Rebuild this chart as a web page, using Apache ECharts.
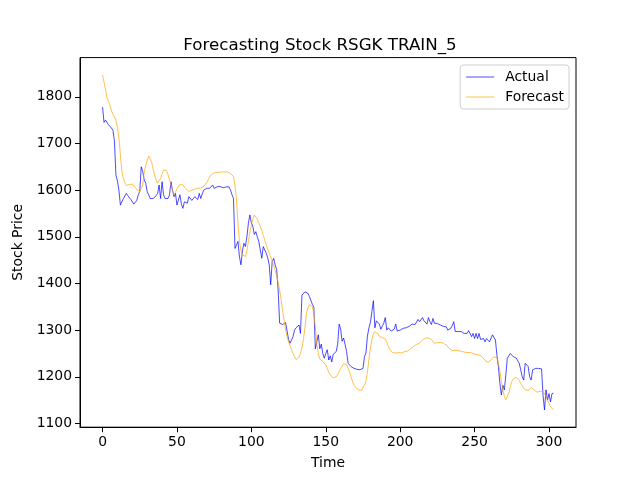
<!DOCTYPE html>
<html>
<head>
<meta charset="utf-8">
<script src="https://cdn.jsdelivr.net/npm/echarts@6/dist/echarts.min.js"></script>
<style>
  html, body { margin: 0; padding: 0; background: #fff; }
  #main { width: 640px; height: 480px; }
</style>
</head>
<body>
<div id="main"></div>
<script>
// values, one per time step
var actual = [
  1778, 1745, 1750, 1746, 1740, 1736, 1733, 1728, 1705, 1632,
  1620, 1600, 1568, 1575, 1582, 1586, 1593, 1588, 1584, 1580,
  1576, 1570, 1567, 1578, 1590, 1597, 1650, 1640, 1622, 1615,
  1597, 1590, 1582, 1580, 1582, 1582, 1588, 1593, 1611, 1582,
  1618, 1590, 1582, 1580, 1582, 1590, 1618, 1600, 1586, 1593,
  1568, 1572, 1590, 1570, 1561, 1575, 1574, 1572, 1586, 1582,
  1578, 1579, 1586, 1583, 1580, 1593, 1582, 1592, 1600, 1602,
  1604, 1603, 1604, 1608, 1611, 1604, 1606, 1607, 1606, 1608,
  1607, 1605, 1604, 1607, 1609, 1607, 1600, 1590, 1582, 1475,
  1472, 1490, 1457, 1440, 1470, 1486, 1479, 1500, 1529, 1547,
  1530, 1522, 1505, 1511, 1500, 1490, 1486, 1454, 1479, 1475,
  1465, 1455, 1440, 1397, 1447, 1454, 1440, 1430, 1386, 1315,
  1311, 1312, 1311, 1316, 1318, 1280, 1272, 1268, 1286, 1300,
  1305, 1307, 1311, 1293, 1375, 1375, 1382, 1385, 1379, 1372,
  1364, 1355, 1349, 1260, 1275, 1290, 1260, 1270, 1250, 1240,
  1250, 1258, 1236, 1245, 1232, 1248, 1252, 1254, 1270, 1313,
  1302, 1276, 1283, 1269, 1254, 1229, 1225, 1222, 1218, 1218,
  1218, 1216, 1215, 1215, 1215, 1218, 1243, 1251, 1287, 1305,
  1316, 1340, 1363, 1305, 1320, 1316, 1313, 1302, 1305, 1315,
  1327, 1300, 1305, 1302, 1298, 1300, 1302, 1313, 1298, 1302,
  1300, 1298, 1304, 1302, 1305, 1309, 1308, 1309, 1313, 1309,
  1312, 1316, 1323, 1318, 1316, 1327, 1320, 1316, 1313, 1327,
  1318, 1312, 1325, 1315, 1311, 1314, 1316, 1311, 1313, 1308,
  1304, 1307, 1300, 1297, 1304, 1310, 1318, 1297, 1300, 1297,
  1299, 1297, 1293, 1293, 1294, 1293, 1299, 1297, 1286, 1293,
  1282, 1293, 1282, 1293, 1280, 1279, 1282, 1275, 1282, 1282,
  1275, 1282, 1290, 1286, 1279, 1247, 1222, 1186, 1161, 1182,
  1172, 1204, 1240, 1236, 1250, 1247, 1243, 1241, 1240, 1236,
  1229, 1215, 1200, 1193, 1229, 1232, 1222, 1200, 1193, 1215,
  1218, 1218, 1220, 1218, 1219, 1217, 1160, 1129, 1172, 1150,
  1164, 1146, 1164, 1165
]
var forecast = [
  1847, 1845, 1815, 1797, 1790, 1782, 1770, 1762, 1757, 1750,
  1735, 1712, 1675, 1640, 1625, 1616, 1610, 1607, 1612, 1615,
  1613, 1610, 1606, 1601, 1598, 1597, 1600, 1611, 1639, 1652,
  1663, 1673, 1670, 1660, 1645, 1632, 1622, 1615, 1617, 1625,
  1635, 1643, 1645, 1642, 1633, 1622, 1611, 1600, 1590, 1595,
  1603, 1607, 1612, 1615, 1611, 1607, 1603, 1599, 1597, 1598,
  1600, 1601, 1602, 1604, 1604, 1605, 1605, 1605, 1608, 1612,
  1616, 1622, 1629, 1633, 1636, 1637, 1638, 1638, 1638, 1639,
  1639, 1639, 1639, 1639, 1639, 1638, 1636, 1634, 1629, 1610,
  1580, 1530, 1490, 1470, 1461, 1457, 1458, 1470, 1490, 1510,
  1525, 1538, 1547, 1546, 1538, 1530, 1522, 1514, 1503, 1493,
  1483, 1474, 1465, 1457, 1448, 1438, 1428, 1416, 1403, 1385,
  1366, 1342, 1320, 1300, 1286, 1275, 1267, 1258, 1250, 1243,
  1237, 1238, 1242, 1250, 1262, 1280, 1305, 1335, 1348, 1355,
  1356, 1350, 1335, 1307, 1270, 1250, 1238, 1234, 1233, 1230,
  1225, 1218, 1210, 1204, 1200, 1198, 1198, 1200, 1205, 1211,
  1218, 1223, 1228, 1229, 1226, 1218, 1210, 1200, 1190, 1182,
  1177, 1174, 1172, 1170, 1171, 1175, 1182, 1191, 1210, 1238,
  1262, 1280, 1292, 1297, 1298, 1292, 1287, 1285, 1284, 1283,
  1281, 1275, 1265, 1258, 1254, 1252, 1251, 1251, 1252, 1252,
  1251, 1251, 1253, 1254, 1254, 1255, 1257, 1260, 1262, 1265,
  1267, 1269, 1270, 1272, 1276, 1279, 1281, 1283, 1284, 1283,
  1282, 1280, 1276, 1272, 1270, 1273, 1275, 1274, 1273, 1272,
  1270, 1268, 1264, 1261, 1258, 1256, 1256, 1257, 1257, 1256,
  1256, 1255, 1254, 1253, 1252, 1252, 1252, 1252, 1251, 1250,
  1249, 1248, 1248, 1247, 1245, 1243, 1240, 1235, 1232, 1231,
  1232, 1236, 1240, 1243, 1245, 1240, 1230, 1212, 1190, 1172,
  1158, 1151, 1152, 1165, 1179, 1190, 1196, 1199, 1199, 1197,
  1192, 1186, 1180, 1176, 1172, 1169, 1171, 1174, 1177, 1175,
  1172, 1169, 1167, 1166, 1169, 1172, 1169, 1165, 1158, 1150,
  1143, 1136, 1132, 1129
]
var xTicks = [0, 50, 100, 150, 200, 250, 300]
var yTicks = [1100, 1200, 1300, 1400, 1500, 1600, 1700, 1800]

var font = 'DejaVu Sans'
var lineIcon = 'path://M0,0 L28,0 L28,1 L0,1 Z'
var chart = echarts.init(document.getElementById('main'), null, { renderer: 'canvas' })

function toPairs(arr) {
  return arr.map(function (v, i) { return [i, v] })
}

var option = {
  animation: false,
  backgroundColor: '#fff',
  title: {
    text: 'Forecasting Stock RSGK TRAIN_5',
    left: 'center',
    top: 32,
    textStyle: { fontFamily: font, fontSize: 16.7, fontWeight: 'normal', color: '#000' }
  },
  legend: {
    orient: 'vertical',
    right: 71,
    top: 65,
    padding: [5, 5, 5, 6],
    itemWidth: 28,
    itemHeight: 1.2,
    itemGap: 6,
    borderColor: '#d0d0d0',
    borderWidth: 1,
    borderRadius: 3,
    backgroundColor: 'rgba(255,255,255,0.8)',
    textStyle: { fontFamily: font, fontSize: 13.9, color: '#000', padding: [0, 0, 0, 6] },
    data: [
      { name: 'Actual', icon: lineIcon },
      { name: 'Forecast', icon: lineIcon }
    ]
  },
  grid: {
    left: 80, right: 64, top: 57.6, bottom: 52.8,
    show: true, borderColor: '#000', borderWidth: 1, backgroundColor: 'transparent'
  },
  xAxis: {
    type: 'value',
    min: -15.15,
    max: 318.15,
    name: 'Time',
    nameLocation: 'middle',
    nameGap: 29,
    nameTextStyle: { fontFamily: font, fontSize: 13.9, color: '#000' },
    axisLine: { onZero: false, lineStyle: { color: '#000', width: 1 } },
    axisTick: { show: true, length: 5, lineStyle: { color: '#000' }, customValues: xTicks },
    axisLabel: { fontFamily: font, fontSize: 13.9, color: '#000', margin: 8, customValues: xTicks },
    splitLine: { show: false }
  },
  yAxis: {
    type: 'value',
    min: 1092,
    max: 1884,
    name: 'Stock Price',
    nameLocation: 'middle',
    nameGap: 48,
    nameTextStyle: { fontFamily: font, fontSize: 13.9, color: '#000' },
    axisLine: { show: true, onZero: false, lineStyle: { color: '#000', width: 1 } },
    axisTick: { show: true, length: 5, lineStyle: { color: '#000' }, customValues: yTicks },
    axisLabel: {
      fontFamily: font, fontSize: 13.9, color: '#000', margin: 8, customValues: yTicks,
      formatter: function (v) { return String(v) }
    },
    splitLine: { show: false }
  },
  series: [
    {
      name: 'Actual',
      type: 'line',
      data: toPairs(actual),
      symbol: 'none',
      color: 'rgba(0,0,255,0.7)',
      lineStyle: { width: 1, color: 'rgba(0,0,255,0.7)' }
    },
    {
      name: 'Forecast',
      type: 'line',
      data: toPairs(forecast),
      symbol: 'none',
      color: 'rgba(255,165,0,0.7)',
      lineStyle: { width: 1, color: 'rgba(255,165,0,0.7)' }
    }
  ]
}
chart.setOption(option)
</script>
</body>
</html>
